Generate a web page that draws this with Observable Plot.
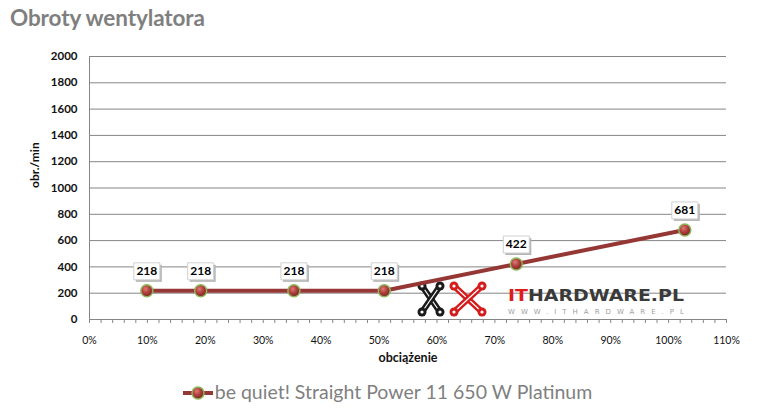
<!DOCTYPE html>
<html><head><meta charset="utf-8">
<script src="https://cdn.jsdelivr.net/npm/d3@7"></script>
<script src="https://cdn.jsdelivr.net/npm/@observablehq/plot@0.6"></script>
<style>
body{margin:0;background:#fff;overflow:hidden;font-family:Lato,"Open Sans",sans-serif}
#wrap{position:relative;width:758px;height:418px}
#title{position:absolute;left:10px;top:4px;font-size:22.5px;font-weight:bold;color:#7f7f7f;font-family:Lato,sans-serif;letter-spacing:-0.1px}
#legend{position:absolute;top:380px;left:8px;width:758px;text-align:center;font-size:19.5px;color:#7f7f7f;font-family:Lato,sans-serif;white-space:nowrap}
#legend svg{vertical-align:-2px;margin-right:1px}
#chart{position:absolute;left:0;top:0}
</style></head>
<body><div id="wrap"><div id="chart"></div><div id="title">Obroty wentylatora</div>
<div id="legend"><svg width="32" height="16" viewBox="0 0 32 16"><defs><radialGradient id="ballL" cx="40%" cy="35%" r="65%"><stop offset="0" stop-color="#e07a77"/><stop offset="0.5" stop-color="#b0403d"/><stop offset="1" stop-color="#7a2624"/></radialGradient></defs><line x1="1" y1="8" x2="31" y2="8" stroke="#953735" stroke-width="4"/><circle cx="16" cy="8" r="6" fill="url(#ballL)" stroke="#8fb55a" stroke-width="1.5"/></svg><span id="legtext">be quiet! Straight Power 11 650 W Platinum</span></div>
</div>
<script>
const loads = [9.9, 19.2, 35.3, 50.9, 73.7, 102.8];
const rpm = [218, 218, 218, 218, 422, 681];
const xTicks = [0, 10, 20, 30, 40, 50, 60, 70, 80, 90, 100, 110];
const xMinorTicks = d3.range(0, 111, 2);
const yTicks = [0, 200, 400, 600, 800, 1000, 1200, 1400, 1600, 1800, 2000];
const yLabel = "obr./min";
const xLabel = "obciążenie";

const data = loads.map((x, i) => ({x, y: rpm[i]}));
const boxSymbol = {draw(ctx) { ctx.rect(-13, -8.5, 26, 17); }};

const plot = Plot.plot({
  width: 758, height: 418,
  marginTop: 56, marginBottom: 99, marginLeft: 89, marginRight: 32,
  x: {domain: [0, 110]},
  y: {domain: [0, 2000]},
  style: {fontFamily: "Lato, sans-serif", background: "transparent", color: "#000"},
  marks: [
    Plot.gridY(yTicks, {stroke: "#868686", strokeOpacity: 1}),
    Plot.ruleX([0], {stroke: "#868686"}),
    Plot.ruleY([0], {stroke: "#868686"}),
    Plot.axisY(yTicks, {tickSize: 0, tickPadding: 12, fontSize: 11.5, fontWeight: "bold", tickFormat: d => String(d), label: null, fill: "#111"}),
    Plot.axisX(xMinorTicks, {tickSize: 4, text: null, label: null, stroke: "#868686"}),
    Plot.axisX(xTicks, {tickSize: 0, tickPadding: 17, fontSize: 10.5, tickFormat: d => d + "%", label: null, fill: "#111"}),
    Plot.text([yLabel], {frameAnchor: "left", rotate: -90, dx: -54, fontWeight: "bold", fontSize: 12, fill: "#111"}),
    Plot.text([xLabel], {frameAnchor: "bottom", lineAnchor: "middle", dy: 38, fontWeight: "bold", fontSize: 12.5, fill: "#111"}),
    Plot.line(data, {x: "x", y: "y", stroke: "#953735", strokeWidth: 4}),
    Plot.dot(data, {x: "x", y: "y", r: 6, fill: "url(#ball)", stroke: "#8fb55a", strokeWidth: 1.5}),
    Plot.dot(data, {x: "x", y: "y", symbol: boxSymbol, fill: "#b5b5b5", stroke: "none", dx: 2, dy: -17.5}),
    Plot.dot(data, {x: "x", y: "y", symbol: boxSymbol, fill: "#fff", stroke: "#d0d0d0", strokeWidth: 1, dy: -19.5}),
    Plot.text(data, {x: "x", y: "y", text: d => String(d.y), dy: -19.5, fontWeight: "bold", fontSize: 12, fill: "#000"})
  ]
});
document.getElementById("chart").appendChild(plot);

const svg = d3.select(plot);
const defs = svg.insert("defs", ":first-child");
const g = defs.append("radialGradient").attr("id", "ball").attr("cx", "40%").attr("cy", "35%").attr("r", "65%");
g.append("stop").attr("offset", 0).attr("stop-color", "#e07a77");
g.append("stop").attr("offset", 0.5).attr("stop-color", "#b0403d");
g.append("stop").attr("offset", 1).attr("stop-color", "#7a2624");

// watermark (decoration)
const wm = svg.insert("g", "g[aria-label='line']").attr("class", "watermark").attr("text-anchor", "start");
function xlogo(cx, cy, w, h, color) {
  const pts = [[cx - w, cy - h], [cx + w, cy - h], [cx - w, cy + h], [cx + w, cy + h]];
  const lg = wm.append("g");
  [[pts[0], pts[3]], [pts[1], pts[2]]].forEach(([a, b]) => {
    lg.append("line").attr("x1", a[0]).attr("y1", a[1]).attr("x2", b[0]).attr("y2", b[1]).attr("stroke", color).attr("stroke-width", 6).attr("stroke-linecap", "round");
    lg.append("line").attr("x1", a[0]).attr("y1", a[1]).attr("x2", b[0]).attr("y2", b[1]).attr("stroke", "#fff").attr("stroke-width", 1.2);
  });
  pts.forEach(p => {
    lg.append("circle").attr("cx", p[0]).attr("cy", p[1]).attr("r", 4.5).attr("fill", color);
    lg.append("circle").attr("cx", p[0]).attr("cy", p[1]).attr("r", 1.6).attr("fill", "#fff");
  });
}
xlogo(431, 299, 9, 13, "#1a1a1a");
xlogo(468, 299, 14, 13, "#d41c1c");
const t = wm.append("text").attr("x", 508).attr("y", 301).attr("font-family", "DejaVu Sans, sans-serif").attr("font-weight", "bold").attr("font-size", 15).attr("textLength", 176).attr("lengthAdjust", "spacingAndGlyphs");
t.append("tspan").attr("fill", "#e01b1b").text("IT");
t.append("tspan").attr("fill", "#3a3a3a").text("HARDWARE.PL");
wm.append("text").attr("x", 508).attr("y", 314).attr("font-family", "DejaVu Sans, sans-serif").attr("font-size", 7).attr("fill", "#a0a0a0").attr("textLength", 176).attr("lengthAdjust", "spacing").text("WWW.ITHARDWARE.PL");
</script>
</body></html>
